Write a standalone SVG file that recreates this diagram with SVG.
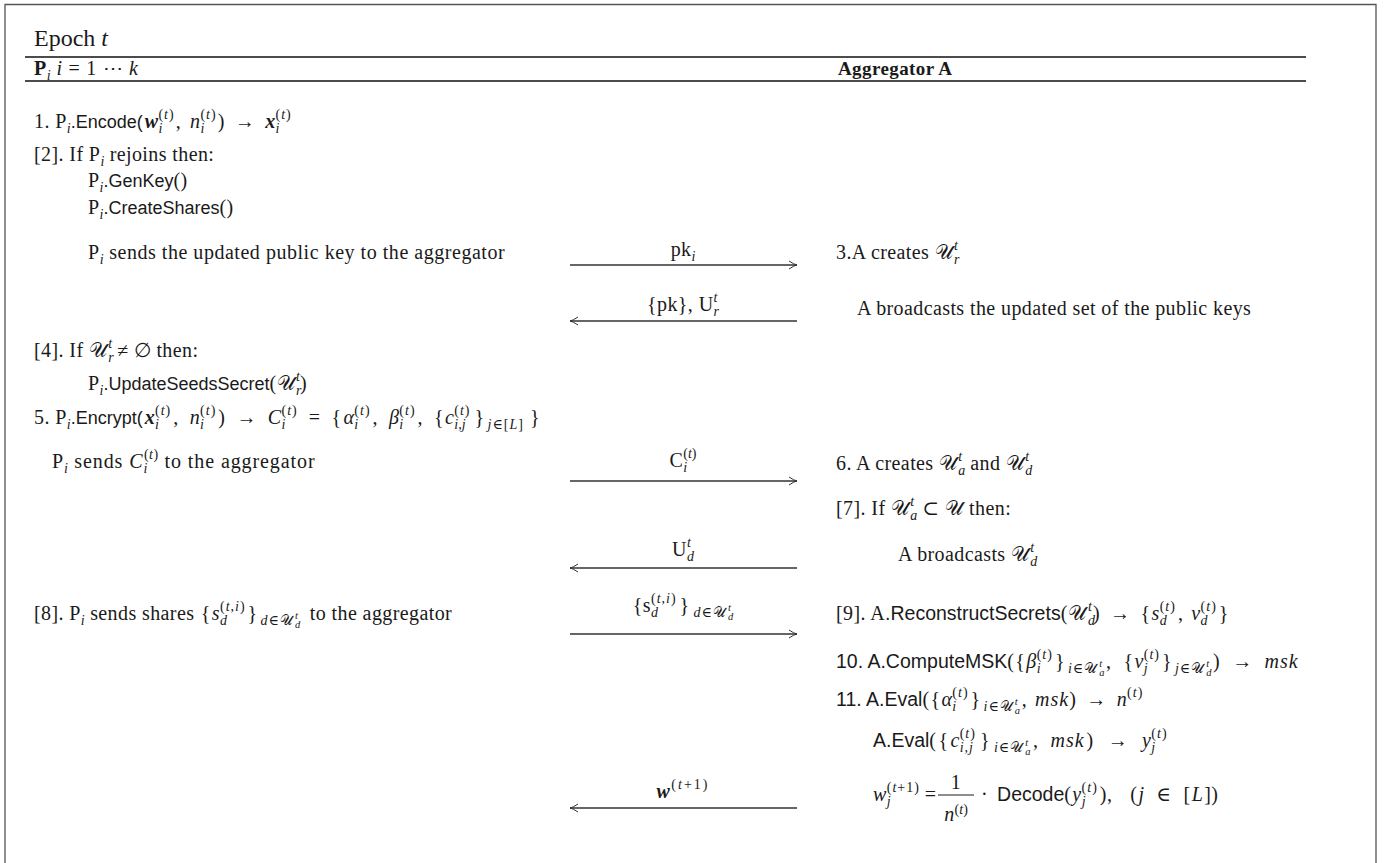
<svg xmlns="http://www.w3.org/2000/svg" width="1396" height="863" viewBox="0 0 1396 863">
<style>
.t{font-family:"Liberation Serif","DejaVu Serif",serif;font-size:20px;fill:#1a1a1a;letter-spacing:0.4px}
.sf{font-family:"Liberation Sans","DejaVu Sans",sans-serif;font-size:18px;letter-spacing:0}
.sr{font-family:"Liberation Sans","DejaVu Sans",sans-serif;font-size:19.5px;letter-spacing:0}
.i{font-style:italic}
.sc{font-size:14px;letter-spacing:0}
.ss{font-size:10.5px;letter-spacing:0}
.sp{letter-spacing:1px}
.sp2{letter-spacing:2px}
.bi{font-weight:bold;font-style:italic}
.b{font-weight:bold}
.rule{stroke:#111;stroke-width:1.4}
.arr{stroke:#333;stroke-width:1.3;fill:none;marker-end:url(#ah)}
</style>
<defs>
<marker id="ah" markerUnits="userSpaceOnUse" markerWidth="10" markerHeight="10" refX="8" refY="4" orient="auto" overflow="visible">
<path d="M0,0 Q5,3.4 8,4 Q5,4.6 0,8" fill="none" stroke="#333" stroke-width="1"/>
</marker>
</defs>
<rect width="1396" height="863" fill="#fff"/>
<g id="frame">
<path d="M5,863 V4.5 H1376 V863" fill="none" stroke="#555" stroke-width="1.3"/>
</g>
<g id="header">
<text class="t" x="34" y="46" style="font-size:24px;letter-spacing:0">Epoch <tspan class="i">t</tspan></text>
<line class="rule" x1="25" y1="57" x2="1306" y2="57"/>
<text class="t" x="34" y="75"><tspan class="b">P</tspan><tspan class="sc i" dy="5">i</tspan><tspan dy="-5" dx="6" class="i">i</tspan><tspan dx="6">=</tspan><tspan dx="6">1</tspan><tspan dx="6">⋯</tspan><tspan dx="6" class="i">k</tspan></text>
<text class="t b" x="838" y="75" style="font-size:19px">Aggregator A</text>
<line class="rule" x1="25" y1="81" x2="1306" y2="81"/>
</g>
<g id="step1">
<text class="t" x="34" y="128">1. P<tspan class="sc i" dy="5">i</tspan><tspan class="sf" dy="-5">.Encode(</tspan><tspan class="bi" dx="2">w</tspan><tspan class="sc i" dy="5">i</tspan><tspan class="sc sp" dx="-3.9" dy="-14">(<tspan class="i">t</tspan>)</tspan><tspan dy="9" dx="1">,</tspan><tspan class="i" dx="9">n</tspan><tspan class="sc i" dy="5">i</tspan><tspan class="sc sp" dx="-3.9" dy="-14">(<tspan class="i">t</tspan>)</tspan><tspan dy="9" dx="1">)</tspan><tspan dx="10">→</tspan><tspan class="bi" dx="10">x</tspan><tspan class="sc i" dy="5">i</tspan><tspan class="sc sp" dx="-3.9" dy="-14">(<tspan class="i">t</tspan>)</tspan></text>
</g>
<g id="step2">
<text class="t" x="34" y="161">[2]. If P<tspan class="sc i" dy="5">i</tspan><tspan dy="-5"> rejoins then:</tspan></text>
<text class="t" x="88" y="187">P<tspan class="sc i" dy="5">i</tspan><tspan class="sf" dy="-5">.GenKey</tspan>()</text>
<text class="t" x="88" y="214">P<tspan class="sc i" dy="5">i</tspan><tspan class="sf" dy="-5">.CreateShares</tspan>()</text>
<text class="t" x="88" y="259" textLength="417" lengthAdjust="spacing">P<tspan class="sc i" dy="5">i</tspan><tspan dy="-5"> sends the updated public key to the aggregator</tspan></text>
</g>
<g id="step3">
<text class="t" x="836" y="259">3.A creates 𝒰<tspan class="sc i" dy="5" dx="1">r</tspan><tspan class="sc i" dx="-5.4" dy="-14">t</tspan></text>
<text class="t" x="857" y="315">A broadcasts the updated set of the public keys</text>
</g>
<g id="step4">
<text class="t" x="34" y="357">[4]. If 𝒰<tspan class="sc i" dy="5" dx="1">r</tspan><tspan class="sc i" dx="-5.4" dy="-14">t</tspan><tspan dy="9" dx="5">≠</tspan><tspan dx="5">∅</tspan> then:</text>
<text class="t" x="88" y="390">P<tspan class="sc i" dy="5">i</tspan><tspan class="sf" dy="-5">.UpdateSeedsSecret</tspan>(𝒰<tspan class="sc i" dy="5" dx="1">r</tspan><tspan class="sc i" dx="-5.4" dy="-14">t</tspan><tspan dy="9">)</tspan></text>
</g>
<g id="step5">
<text class="t" x="34" y="424">5. P<tspan class="sc i" dy="5">i</tspan><tspan class="sf" dy="-5">.Encrypt(</tspan><tspan class="bi" dx="2">x</tspan><tspan class="sc i" dy="5">i</tspan><tspan class="sc sp" dx="-3.9" dy="-14">(<tspan class="i">t</tspan>)</tspan><tspan dy="9" dx="2">,</tspan><tspan class="i" dx="11">n</tspan><tspan class="sc i" dy="5">i</tspan><tspan class="sc sp" dx="-3.9" dy="-14">(<tspan class="i">t</tspan>)</tspan><tspan dy="9" dx="2">)</tspan><tspan dx="11">→</tspan><tspan class="i" dx="11">C</tspan><tspan class="sc i" dy="5">i</tspan><tspan class="sc sp" dx="-3.9" dy="-14">(<tspan class="i">t</tspan>)</tspan><tspan dy="9" dx="11">=</tspan><tspan dx="11">{</tspan><tspan class="i" dx="2">α</tspan><tspan class="sc i" dy="5">i</tspan><tspan class="sc sp" dx="-3.9" dy="-14">(<tspan class="i">t</tspan>)</tspan><tspan dy="9" dx="2">,</tspan><tspan class="i" dx="11">β</tspan><tspan class="sc i" dy="5">i</tspan><tspan class="sc sp" dx="-3.9" dy="-14">(<tspan class="i">t</tspan>)</tspan><tspan dy="9" dx="2">,</tspan><tspan dx="11">{</tspan><tspan class="i" dx="1">c</tspan><tspan class="sc i" dy="5">i,j</tspan><tspan class="sc sp" dx="-11.3" dy="-14">(<tspan class="i">t</tspan>)</tspan><tspan dy="9" dx="4">}</tspan><tspan class="sc sp" dy="5" dx="3"><tspan class="i">j</tspan>∈[<tspan class="i">L</tspan>]</tspan><tspan dy="-5" dx="6">}</tspan></text>
<text class="t" x="52" y="468" textLength="263" lengthAdjust="spacing">P<tspan class="sc i" dy="5">i</tspan><tspan dy="-5"> sends </tspan><tspan class="i">C</tspan><tspan class="sc i" dy="5">i</tspan><tspan class="sc" dx="-3.9" dy="-14">(<tspan class="i">t</tspan>)</tspan><tspan dy="9"> to the aggregator</tspan></text>
</g>
<g id="step6">
<text class="t" x="836" y="470">6. A creates 𝒰<tspan class="sc i" dy="5" dx="1">a</tspan><tspan class="sc i" dx="-7" dy="-14">t</tspan><tspan dy="9" dx="8">and 𝒰</tspan><tspan class="sc i" dy="5" dx="1">d</tspan><tspan class="sc i" dx="-7" dy="-14">t</tspan></text>
</g>
<g id="step7">
<text class="t" x="836" y="515">[7]. If 𝒰<tspan class="sc i" dy="5" dx="1">a</tspan><tspan class="sc i" dx="-7" dy="-14">t</tspan><tspan dy="9" dx="8">⊂</tspan><tspan dx="6">𝒰</tspan> then:</text>
<text class="t" x="898" y="561">A broadcasts 𝒰<tspan class="sc i" dy="5" dx="1">d</tspan><tspan class="sc i" dx="-7" dy="-14">t</tspan></text>
</g>
<g id="step8">
<text class="t" x="34" y="620">[8]. P<tspan class="sc i" dy="5">i</tspan><tspan dy="-5"> sends shares </tspan><tspan dx="1">{</tspan><tspan class="i" dx="1">s</tspan><tspan class="sc i" dy="5">d</tspan><tspan class="sc sp" dx="-7" dy="-14">(<tspan class="i">t</tspan>,<tspan class="i">i</tspan>)</tspan><tspan dy="9" dx="2">}</tspan><tspan class="sc sp" dy="5" dx="3"><tspan class="i">d</tspan>∈𝒰</tspan><tspan class="ss i" dy="3" dx="1">d</tspan><tspan class="ss i" dx="-5.3" dy="-9">t</tspan><tspan dy="1" dx="12">to the aggregator</tspan></text>
</g>
<g id="step9">
<text class="t" x="836" y="620">[9]. A<tspan class="sr">.ReconstructSecrets</tspan>(𝒰<tspan class="sc i" dy="5" dx="2">d</tspan><tspan class="sc i" dx="-7" dy="-14">t</tspan><tspan dy="9" dx="1">)</tspan><tspan dx="10">→</tspan><tspan dx="10">{</tspan><tspan class="i" dx="1">s</tspan><tspan class="sc i" dy="5">d</tspan><tspan class="sc sp" dx="-7" dy="-14">(<tspan class="i">t</tspan>)</tspan><tspan dy="9" dx="2">,</tspan><tspan class="i" dx="8">v</tspan><tspan class="sc i" dy="5">d</tspan><tspan class="sc sp" dx="-7" dy="-14">(<tspan class="i">t</tspan>)</tspan><tspan dy="9" dx="2">}</tspan></text>
</g>
<g id="step10">
<text class="t" x="836" y="668"><tspan class="sr">10. A.ComputeMSK</tspan>(<tspan dx="1">{</tspan><tspan class="i" dx="1">β</tspan><tspan class="sc i" dy="5">i</tspan><tspan class="sc sp" dx="-3.9" dy="-14">(<tspan class="i">t</tspan>)</tspan><tspan dy="9" dx="2">}</tspan><tspan class="sc sp" dy="5" dx="3"><tspan class="i">i</tspan>∈𝒰</tspan><tspan class="ss i" dy="3" dx="1">a</tspan><tspan class="ss i" dx="-5.3" dy="-9">t</tspan><tspan dy="1" dx="4">,</tspan><tspan dx="12">{</tspan><tspan class="i" dx="1">v</tspan><tspan class="sc i" dy="5">j</tspan><tspan class="sc sp" dx="-3.9" dy="-14">(<tspan class="i">t</tspan>)</tspan><tspan dy="9" dx="2">}</tspan><tspan class="sc sp" dy="5" dx="3"><tspan class="i">j</tspan>∈𝒰</tspan><tspan class="ss i" dy="3" dx="1">d</tspan><tspan class="ss i" dx="-5.3" dy="-9">t</tspan><tspan dy="1" dx="4">)</tspan><tspan dx="12">→</tspan><tspan class="i sp" dx="12">msk</tspan></text>
</g>
<g id="step11">
<text class="t" x="836" y="706"><tspan class="sr">11. A.Eval</tspan>(<tspan dx="1">{</tspan><tspan class="i" dx="1">α</tspan><tspan class="sc i" dy="5">i</tspan><tspan class="sc sp" dx="-3.9" dy="-14">(<tspan class="i">t</tspan>)</tspan><tspan dy="9" dx="2">}</tspan><tspan class="sc sp" dy="5" dx="3"><tspan class="i">i</tspan>∈𝒰</tspan><tspan class="ss i" dy="3" dx="1">a</tspan><tspan class="ss i" dx="-5.3" dy="-9">t</tspan><tspan dy="1" dx="4">,</tspan><tspan class="i sp" dx="8">msk</tspan>)<tspan dx="10">→</tspan><tspan class="i" dx="10">n</tspan><tspan class="sc sp" dy="-9">(<tspan class="i">t</tspan>)</tspan></text>
<text class="t" x="873" y="747"><tspan class="sr">A.Eval</tspan>(<tspan dx="2">{</tspan><tspan class="i" dx="2">c</tspan><tspan class="sc i sp" dy="5">i,j</tspan><tspan class="sc sp" dx="-14.3" dy="-14">(<tspan class="i">t</tspan>)</tspan><tspan dy="9" dx="4">}</tspan><tspan class="sc sp" dy="5" dx="4"><tspan class="i">i</tspan>∈𝒰</tspan><tspan class="ss i" dy="3" dx="1">a</tspan><tspan class="ss i" dx="-5.3" dy="-9">t</tspan><tspan dy="1" dx="5">,</tspan><tspan class="i sp" dx="12">msk</tspan><tspan dx="2">)</tspan><tspan dx="14">→</tspan><tspan class="i" dx="14">y</tspan><tspan class="sc i" dy="5">j</tspan><tspan class="sc sp" dx="-3.9" dy="-14">(<tspan class="i">t</tspan>)</tspan></text>
<text class="t" x="873" y="801"><tspan class="i">w</tspan><tspan class="sc i" dy="5">j</tspan><tspan class="sc sp" dx="-3.9" dy="-14">(<tspan class="i">t</tspan>+1)</tspan><tspan dy="9" dx="5">=</tspan></text>
<text class="t" x="956" y="789" text-anchor="middle">1</text>
<line x1="938" y1="795" x2="974" y2="795" stroke="#1a1a1a" stroke-width="1"/>
<text class="t" x="956" y="821" text-anchor="middle"><tspan class="i">n</tspan><tspan class="sc" dy="-7">(<tspan class="i">t</tspan>)</tspan></text>
<text class="t" x="981" y="801">·<tspan class="sr" dx="9">Decode</tspan>(<tspan class="i" dx="1">y</tspan><tspan class="sc i" dy="5">j</tspan><tspan class="sc sp" dx="-3.9" dy="-14">(<tspan class="i">t</tspan>)</tspan><tspan dy="9" dx="2">),</tspan><tspan dx="18">(</tspan><tspan class="i" dx="1">j</tspan><tspan dx="12">∈</tspan><tspan dx="12">[</tspan><tspan class="i" dx="1">L</tspan><tspan dx="1">])</tspan></text>
</g>
<g id="connectors">
<line class="arr" x1="570" y1="265" x2="797" y2="265"/>
<text class="t" x="683" y="256" text-anchor="middle">pk<tspan class="sc i" dy="5">i</tspan></text>
<line class="arr" x1="797" y1="321" x2="570" y2="321"/>
<text class="t" x="683" y="311" text-anchor="middle">{pk}, U<tspan class="sc i" dy="5">r</tspan><tspan class="sc i" dx="-5.4" dy="-14">t</tspan></text>
<line class="arr" x1="570" y1="481" x2="797" y2="481"/>
<text class="t" x="683" y="467" text-anchor="middle">C<tspan class="sc i" dy="5">i</tspan><tspan class="sc" dx="-3.9" dy="-14">(<tspan class="i">t</tspan>)</tspan></text>
<line class="arr" x1="797" y1="568" x2="570" y2="568"/>
<text class="t" x="683" y="556" text-anchor="middle">U<tspan class="sc i" dy="5">d</tspan><tspan class="sc i" dx="-7" dy="-14">t</tspan></text>
<line class="arr" x1="570" y1="634" x2="797" y2="634"/>
<text class="t" x="683" y="612" text-anchor="middle">{s<tspan class="sc i" dy="5">d</tspan><tspan class="sc sp" dx="-7" dy="-14">(<tspan class="i">t</tspan>,<tspan class="i">i</tspan>)</tspan><tspan dy="9" dx="3">}</tspan><tspan class="sc sp" dy="5" dx="4"><tspan class="i">d</tspan>∈𝒰</tspan><tspan class="ss i" dy="3" dx="1">d</tspan><tspan class="ss i" dx="-5.3" dy="-9">t</tspan></text>
<line class="arr" x1="797" y1="808" x2="570" y2="808"/>
<text class="t" x="683" y="798" text-anchor="middle"><tspan class="bi">w</tspan><tspan class="sc sp2" dy="-9" dx="1">(<tspan class="i">t</tspan>+1)</tspan></text>
</g>
</svg>
